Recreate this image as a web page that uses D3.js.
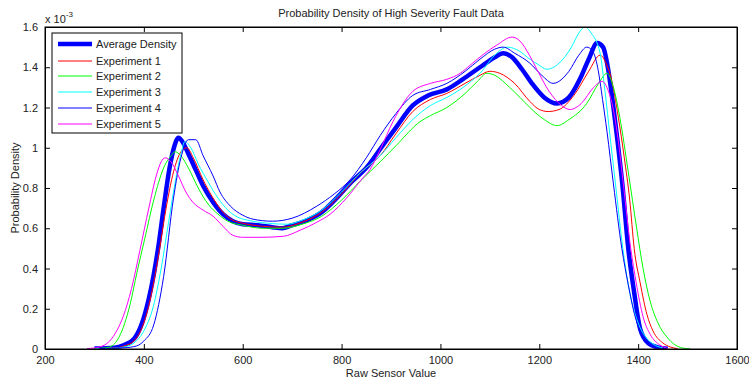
<!DOCTYPE html>
<html><head><meta charset="utf-8">
<script src="https://d3js.org/d3.v7.min.js"></script>
<style>body{margin:0;background:#fff;} text{font-family:"Liberation Sans",Arial,sans-serif;}</style>
</head><body><svg id="c" width="749" height="382"></svg>
<script>
const xTicks = [200,400,600,800,1000,1200,1400,1600];
const yTicks = [0,0.2,0.4,0.6,0.8,1.0,1.2,1.4,1.6];
const seriesNames = ["Average Density","Experiment 1","Experiment 2","Experiment 3","Experiment 4","Experiment 5"];
const seriesColors = ["#0000ff","#ff0000","#00ff00","#00ffff","#0000ff","#ff00ff"];

// values in units of 1e-3
const avgDensity = [[300,0.002],[340,0.006],[360,0.02],[380,0.05],[395,0.12],[410,0.25],[420,0.37],[430,0.52],[440,0.7],[452,0.9],[462,1.01],[470,1.05],[478,1.03],[490,0.97],[505,0.89],[520,0.81],[540,0.73],[560,0.67],[580,0.635],[600,0.62],[630,0.615],[660,0.605],[680,0.6],[700,0.615],[730,0.64],[760,0.68],[790,0.75],[820,0.83],[850,0.9],[880,1.0],[910,1.1],[944,1.21],[975,1.26],[1013,1.29],[1045,1.34],[1080,1.4],[1110,1.45],[1127,1.47],[1145,1.45],[1165,1.39],[1185,1.32],[1210,1.25],[1236,1.22],[1260,1.25],[1282,1.34],[1300,1.44],[1317,1.52],[1329,1.5],[1340,1.38],[1350,1.2],[1358,1.04],[1368,0.82],[1380,0.5],[1392,0.28],[1404,0.1],[1420,0.03],[1440,0.008],[1460,0.001]];
const exp1 = [[300,0.002],[340,0.005],[360,0.015],[380,0.04],[400,0.13],[415,0.27],[430,0.47],[445,0.7],[460,0.88],[475,0.98],[487,1.0],[500,0.95],[520,0.84],[540,0.75],[560,0.68],[580,0.64],[600,0.625],[640,0.61],[680,0.605],[720,0.63],[760,0.68],[800,0.77],[840,0.88],[878,0.96],[910,1.07],[944,1.18],[980,1.24],[1013,1.27],[1050,1.32],[1080,1.36],[1100,1.38],[1120,1.37],[1150,1.32],[1181,1.23],[1200,1.19],[1218,1.18],[1240,1.19],[1270,1.26],[1300,1.38],[1323,1.46],[1335,1.42],[1345,1.35],[1360,1.15],[1372,0.95],[1383,0.74],[1392,0.5],[1404,0.33],[1418,0.17],[1430,0.09],[1450,0.03],[1465,0.01],[1480,0.002]];
const exp2 = [[300,0.002],[320,0.005],[331,0.01],[350,0.06],[372,0.22],[386,0.38],[402,0.55],[420,0.74],[440,0.9],[455,0.96],[463,0.98],[475,0.96],[490,0.9],[510,0.8],[530,0.72],[550,0.67],[570,0.635],[600,0.615],[640,0.6],[680,0.6],[720,0.62],[760,0.66],[800,0.74],[840,0.84],[878,0.93],[910,1.01],[959,1.13],[980,1.16],[1013,1.2],[1050,1.27],[1075,1.33],[1094,1.37],[1110,1.36],[1140,1.3],[1161,1.25],[1181,1.2],[1210,1.14],[1236,1.11],[1260,1.14],[1296,1.22],[1320,1.32],[1337,1.37],[1350,1.3],[1363,1.15],[1380,0.88],[1397,0.6],[1410,0.4],[1424,0.24],[1440,0.13],[1458,0.06],[1475,0.02],[1490,0.005],[1505,0.001]];
const exp3 = [[300,0.002],[340,0.004],[360,0.01],[380,0.03],[400,0.09],[419,0.21],[435,0.4],[450,0.63],[465,0.85],[475,0.97],[483,1.03],[495,1.0],[510,0.92],[530,0.83],[550,0.75],[570,0.69],[590,0.655],[610,0.64],[650,0.625],[690,0.62],[720,0.64],[760,0.69],[800,0.78],[840,0.88],[878,0.96],[910,1.05],[944,1.14],[980,1.21],[1013,1.25],[1046,1.3],[1080,1.37],[1114,1.47],[1135,1.5],[1160,1.48],[1181,1.44],[1200,1.41],[1215,1.39],[1240,1.42],[1265,1.5],[1280,1.57],[1292,1.6],[1305,1.57],[1323,1.47],[1333,1.28],[1343,1.06],[1356,0.78],[1369,0.5],[1383,0.28],[1397,0.15],[1415,0.06],[1430,0.025],[1450,0.005]];
const exp4 = [[310,0.002],[360,0.006],[385,0.015],[400,0.04],[420,0.12],[440,0.36],[460,0.75],[475,0.95],[490,1.04],[505,1.04],[520,0.96],[540,0.86],[554,0.78],[575,0.71],[600,0.665],[621,0.645],[660,0.635],[700,0.65],[750,0.71],[785,0.77],[817,0.84],[850,0.95],[878,1.06],[910,1.17],[944,1.26],[980,1.29],[1013,1.32],[1050,1.38],[1080,1.44],[1110,1.49],[1127,1.5],[1150,1.47],[1181,1.42],[1205,1.36],[1228,1.32],[1260,1.38],[1280,1.46],[1296,1.5],[1308,1.48],[1318,1.4],[1328,1.24],[1337,1.08],[1350,0.82],[1367,0.5],[1380,0.32],[1394,0.16],[1410,0.06],[1430,0.01],[1450,0.001]];
const exp5 = [[285,0.002],[310,0.01],[331,0.04],[345,0.09],[358,0.16],[375,0.3],[392,0.49],[410,0.7],[425,0.86],[435,0.93],[443,0.95],[455,0.93],[470,0.86],[485,0.78],[499,0.73],[520,0.69],[540,0.66],[560,0.61],[580,0.565],[600,0.555],[635,0.555],[682,0.56],[716,0.59],[750,0.63],[777,0.67],[810,0.75],[843,0.85],[857,0.89],[878,0.99],[904,1.13],[944,1.28],[980,1.32],[1013,1.34],[1040,1.37],[1060,1.41],[1090,1.47],[1114,1.51],[1145,1.55],[1161,1.53],[1180,1.46],[1195,1.39],[1220,1.28],[1245,1.21],[1262,1.19],[1285,1.22],[1310,1.3],[1327,1.33],[1340,1.28],[1349,1.2],[1359,1.05],[1370,0.82],[1385,0.5],[1396,0.33],[1410,0.16],[1425,0.07],[1444,0.02],[1460,0.003]];
const allSeries = [avgDensity, exp1, exp2, exp3, exp4, exp5];

const svg = d3.select("#c");
const L=45, R=737, T=27, B=349;
const x = d3.scaleLinear().domain([200,1600]).range([L,R]);
const y = d3.scaleLinear().domain([0,1.6]).range([B,T]);

const g = svg.append("g");
svg.append("clipPath").attr("id","pc").append("rect").attr("x",L).attr("y",T).attr("width",R-L).attr("height",B-T);

const line = d3.line().x(d=>x(d[0])).y(d=>y(d[1])).curve(d3.curveMonotoneX);
allSeries.forEach((s,i)=>{
  g.append("path").datum(s).attr("d",line).attr("fill","none")
   .attr("stroke",seriesColors[i]).attr("stroke-width", i===0?4.5:1)
   .attr("stroke-linejoin","round").attr("clip-path","url(#pc)");
});

// box and ticks
const ax = svg.append("g");
const fs = 11;
const xb = d3.axisBottom(x).tickValues(xTicks).tickSize(-5).tickPadding(7).tickFormat(d3.format("d"));
const xt = d3.axisTop(x).tickValues(xTicks).tickSize(-5).tickFormat("");
const yl = d3.axisLeft(y).tickValues(yTicks).tickSize(-5).tickPadding(7).tickFormat(d3.format("~g"));
const yr = d3.axisRight(y).tickValues(yTicks).tickSize(-5).tickFormat("");
[[xb,`translate(0,${B})`],[xt,`translate(0,${T})`],[yl,`translate(${L},0)`],[yr,`translate(${R},0)`]].forEach(([a,t])=>{
  const gg = ax.append("g").attr("transform",t).call(a);
  gg.select(".domain").attr("stroke","#000");
  gg.selectAll(".tick line").attr("stroke","#000");
  gg.selectAll("text").attr("font-size",fs).attr("fill","#222").attr("font-family","Liberation Sans, Arial, sans-serif");
});
ax.append("rect").attr("x",L).attr("y",T).attr("width",R-L).attr("height",B-T).attr("fill","none").attr("stroke","#000");

// exponent
const ex = svg.append("text").attr("x",45).attr("y",23).attr("font-size",fs).attr("fill","#222");
ex.append("tspan").text("x 10");
ex.append("tspan").attr("dy",-6).attr("font-size",8).text("-3");

svg.append("text").attr("x",(L+R)/2).attr("y",17).attr("text-anchor","middle").attr("font-size",fs).attr("fill","#222").text("Probability Density of High Severity Fault Data");
svg.append("text").attr("x",(L+R)/2).attr("y",377).attr("text-anchor","middle").attr("font-size",fs).attr("fill","#222").text("Raw Sensor Value");
svg.append("text").attr("transform",`translate(19,${(T+B)/2}) rotate(-90)`).attr("text-anchor","middle").attr("font-size",fs).attr("fill","#222").text("Probability Density");

// legend
const lg = svg.append("g");
lg.append("rect").attr("x",52).attr("y",33).attr("width",130).attr("height",100).attr("fill","#fff").attr("stroke","#000");
const ly = [44,61,76,92,108,124];
seriesNames.forEach((n,i)=>{
  lg.append("line").attr("x1",58).attr("x2",92).attr("y1",ly[i]).attr("y2",ly[i]).attr("stroke",seriesColors[i]).attr("stroke-width",i===0?4.5:1);
  lg.append("text").attr("x",96).attr("y",ly[i]+4).attr("font-size",fs).attr("fill","#222").text(n);
});
</script></body></html>
